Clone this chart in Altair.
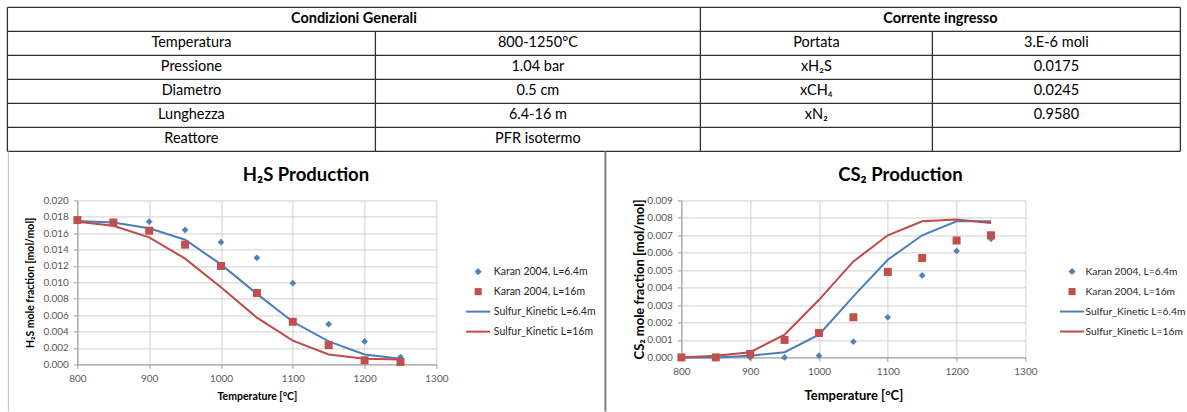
import altair as alt
import pandas as pd

FONT = "Lato"

# ---------------- data ----------------
temps = [800, 850, 900, 950, 1000, 1050, 1100, 1150, 1200, 1250]
x_ticks = [800, 900, 1000, 1100, 1200, 1300]

h2s_karan_64 = [0.0175, 0.0174, 0.0174, 0.0164, 0.0149, 0.0130, 0.0099, 0.0049, 0.0028, 0.0009]
h2s_karan_16 = [0.0176, 0.0173, 0.0163, 0.0146, 0.0120, 0.0087, 0.0052, 0.00235, 0.0005, 0.0003]
h2s_kin_64 = [0.0175, 0.0173, 0.0166, 0.0152, 0.0122, 0.0086, 0.0052, 0.0028, 0.0012, 0.0007]
h2s_kin_16 = [0.0174, 0.0169, 0.0155, 0.0129, 0.0094, 0.0057, 0.0029, 0.0012, 0.0007, 0.0006]
h2s_ticks = [0.000, 0.002, 0.004, 0.006, 0.008, 0.010, 0.012, 0.014, 0.016, 0.018, 0.020]

cs2_karan_64 = [0.0, 0.0, 0.0, 0.0, 0.0001, 0.0009, 0.0023, 0.0047, 0.0061, 0.0068]
cs2_karan_16 = [0.0, 0.0, 0.0002, 0.0010, 0.0014, 0.0023, 0.0049, 0.0057, 0.0067, 0.0070]
cs2_kin_64 = [0.0, 0.0, 0.0001, 0.0003, 0.0013, 0.0035, 0.0056, 0.0070, 0.0078, 0.0078]
cs2_kin_16 = [0.0, 0.0001, 0.0003, 0.0013, 0.0033, 0.0055, 0.0070, 0.0078, 0.0079, 0.0077]
cs2_ticks = [0.000, 0.001, 0.002, 0.003, 0.004, 0.005, 0.006, 0.007, 0.008, 0.009]

series_names = ["Karan 2004, L=6.4m", "Karan 2004, L=16m",
                "Sulfur_Kinetic L=6.4m", "Sulfur_Kinetic L=16m"]

table_headers = ["Condizioni Generali", "Corrente ingresso"]
table_left_labels = ["Temperatura", "Pressione", "Diametro", "Lunghezza", "Reattore"]
table_left_values = ["800-1250°C", "1.04 bar", "0.5 cm", "6.4-16 m", "PFR isotermo"]
table_right_labels = ["Portata", "xH₂S", "xCH₄", "xN₂", ""]
table_right_values = ["3.E-6 moli", "0.0175", "0.0245", "0.9580", ""]

# ---------------- styles / layout ----------------
BLUE, RED = "#4F81BD", "#C0504D"
BLUE_L, RED_L = "#4A7EBB", "#BE4B48"
GRID, AXIS = "#D0D0D0", "#9A9A9A"
LINE_PATH = "M-3.4,-0.28H3.4V0.28H-3.4Z"

PLOT_L = 77          # page x of the left plot's left edge
TX0, TX1 = 7, 1180   # table left / right
TCOLS = [7, 375, 700, 932, 1180]
TY0, ROWH, NROWS = 7, 24, 6
TW, TH = TX1 - PLOT_L, ROWH * NROWS

tx = alt.Scale(domain=[PLOT_L, TX1], range=[0, TW], zero=False, nice=False)
ty = alt.Scale(domain=[TY0, TY0 + TH], range=[0, TH], zero=False, nice=False)

# ---------------- table ----------------
row_y = [TY0 + ROWH * i for i in range(NROWS + 1)]
hl = pd.DataFrame({"x": [TX0] * len(row_y), "x2": [TX1] * len(row_y), "y": row_y, "y2": row_y})
vl = pd.DataFrame({"x": TCOLS, "x2": TCOLS,
                   "y": [TY0, TY0 + ROWH, TY0, TY0 + ROWH, TY0],
                   "y2": [TY0 + TH] * 5})
grid_lines = pd.concat([hl, vl], ignore_index=True)

borders = pd.DataFrame({"x": [605, 8], "x2": [605, 8], "y": [TY0 + TH] * 2, "y2": [411, 411],
                        "kind": ["div", "edge"]})

hdr = pd.DataFrame({"x": [(TCOLS[0] + TCOLS[2]) / 2, (TCOLS[2] + TCOLS[4]) / 2],
                    "y": [TY0 + ROWH / 2] * 2, "t": table_headers})
body_rows = []
for i in range(5):
    yc = TY0 + ROWH * (i + 1) + ROWH / 2
    body_rows.append({"x": (TCOLS[0] + TCOLS[1]) / 2, "y": yc, "t": table_left_labels[i]})
    body_rows.append({"x": (TCOLS[1] + TCOLS[2]) / 2, "y": yc, "t": table_left_values[i]})
    body_rows.append({"x": (TCOLS[2] + TCOLS[3]) / 2, "y": yc, "t": table_right_labels[i]})
    body_rows.append({"x": (TCOLS[3] + TCOLS[4]) / 2, "y": yc, "t": table_right_values[i]})
body = pd.DataFrame(body_rows)

enc_rule = dict(x=alt.X("x:Q", scale=tx, axis=None), x2="x2:Q",
                y=alt.Y("y:Q", scale=ty, axis=None), y2="y2:Q")
t_lines = alt.Chart(grid_lines).mark_rule(color="#303030", strokeWidth=1.3).encode(**enc_rule)
t_div = alt.Chart(borders[borders.kind == "div"]).mark_rule(color="#808080", strokeWidth=2).encode(**enc_rule)
t_edge = alt.Chart(borders[borders.kind == "edge"]).mark_rule(color="#BFBFBF", strokeWidth=1).encode(**enc_rule)
t_hdr = alt.Chart(hdr).mark_text(fontSize=14.5, fontWeight="bold", color="#000", baseline="middle").encode(
    x=alt.X("x:Q", scale=tx, axis=None), y=alt.Y("y:Q", scale=ty, axis=None), text="t:N")
t_body = alt.Chart(body).mark_text(fontSize=14.5, color="#000", baseline="middle").encode(
    x=alt.X("x:Q", scale=tx, axis=None), y=alt.Y("y:Q", scale=ty, axis=None), text="t:N")
table = alt.layer(t_lines, t_div, t_edge, t_hdr, t_body).properties(width=TW, height=TH)


# ---------------- chart panels ----------------
def panel(k64, k16, s64, s16, *, title, dx, ytitle, ydom, yticks, w, h,
          ytx, xty, lab, atitle, tsize, lx, ly, loff, lfs):
    d64 = pd.DataFrame({"T": temps, "v": k64, "series": series_names[0]})
    d16 = pd.DataFrame({"T": temps, "v": k16, "series": series_names[1]})
    dl = pd.DataFrame({"T": temps * 2, "v": s64 + s16,
                       "series": [series_names[2]] * len(temps) + [series_names[3]] * len(temps)})
    xenc = alt.X("T:Q", scale=alt.Scale(domain=[800, 1300], nice=False, zero=False),
                 axis=alt.Axis(values=x_ticks, format="d", title="Temperature [°C]",
                               labelFontSize=lab, labelColor="#595959", labelFlush=False,
                               labelPadding=5, tickSize=4, tickColor=AXIS, domainColor=AXIS,
                               gridColor=GRID, grid=True, titleFontSize=atitle,
                               titleFontWeight="bold", titleColor="#000",
                               titleY=xty, titleBaseline="middle"))
    yenc = alt.Y("v:Q", scale=alt.Scale(domain=ydom, nice=False, zero=False),
                 axis=alt.Axis(values=yticks, format=".3f", title=ytitle,
                               labelFontSize=lab, labelColor="#595959", labelFlush=False,
                               labelPadding=5, tickSize=4, tickColor=AXIS, domainColor=AXIS,
                               gridColor=GRID, grid=True, titleFontSize=atitle,
                               titleFontWeight="bold", titleColor="#000",
                               titleX=ytx, titleY=h / 2, titleAngle=270,
                               titleAlign="center", titleBaseline="middle"))
    leg = alt.Legend(title=None, orient="none", legendX=lx, legendY=ly, padding=0,
                     symbolSize=50, symbolStrokeWidth=0, labelOffset=loff,
                     labelFontSize=lfs, labelColor="#262626", rowPadding=9)
    color = alt.Color("series:N", scale=alt.Scale(domain=series_names,
                                                  range=[BLUE, RED, BLUE_L, RED_L]), legend=leg)
    shape = alt.Shape("series:N", scale=alt.Scale(domain=series_names,
                                                  range=["diamond", "square", LINE_PATH, LINE_PATH]),
                      legend=leg)
    lines = alt.Chart(dl).mark_line(strokeWidth=2).encode(
        x=xenc, y=yenc,
        stroke=alt.Stroke("series:N", scale=alt.Scale(domain=series_names[2:],
                                                      range=[BLUE_L, RED_L]), legend=None))
    p64 = alt.Chart(d64).mark_point(filled=True, opacity=1, size=45).encode(
        x=xenc, y=yenc, color=color, shape=shape)
    p16 = alt.Chart(d16).mark_point(filled=True, opacity=1, size=64).encode(
        x=xenc, y=yenc, color=color, shape=shape)
    return alt.layer(lines, p64, p16).properties(
        width=w, height=h,
        title=alt.TitleParams(text=title, anchor="middle", frame="group", dx=dx, dy=19, offset=11,
                              fontSize=tsize, fontWeight="bold", color="#000", baseline="bottom"))


left = panel(h2s_karan_64, h2s_karan_16, h2s_kin_64, h2s_kin_16,
             title="H₂S Production", dx=49, ytitle="H₂S mole fraction [mol/mol]",
             ydom=[0, 0.020], yticks=h2s_ticks, w=359, h=164,
             ytx=-47, xty=32, lab=10, atitle=10.5, tsize=18.5,
             lx=395.5, ly=66, loff=10.4, lfs=10.5)
right = panel(cs2_karan_64, cs2_karan_16, cs2_kin_64, cs2_kin_16,
              title="CS₂ Production", dx=47, ytitle="CS₂ mole fraction [mol/mol]",
              ydom=[0, 0.009], yticks=cs2_ticks, w=344, h=157,
              ytx=-42, xty=38, lab=10, atitle=13, tsize=18.5,
              lx=385.5, ly=66, loff=8.4, lfs=10.3)

bottom = alt.hconcat(left, right, spacing=245, bounds="flush").resolve_scale(
    x="independent", y="independent", color="independent", shape="independent",
    stroke="independent").resolve_legend(color="independent", shape="independent")

chart = alt.vconcat(table, bottom, spacing=49, bounds="flush").resolve_scale(
    x="independent", y="independent", color="independent", shape="independent",
    stroke="independent").properties(
    padding={"left": 6.4, "top": 6.4, "right": 0, "bottom": 0}
).configure(font=FONT).configure_view(stroke=None)

chart.save("out.html", embed_options={"renderer": "svg", "actions": False})
